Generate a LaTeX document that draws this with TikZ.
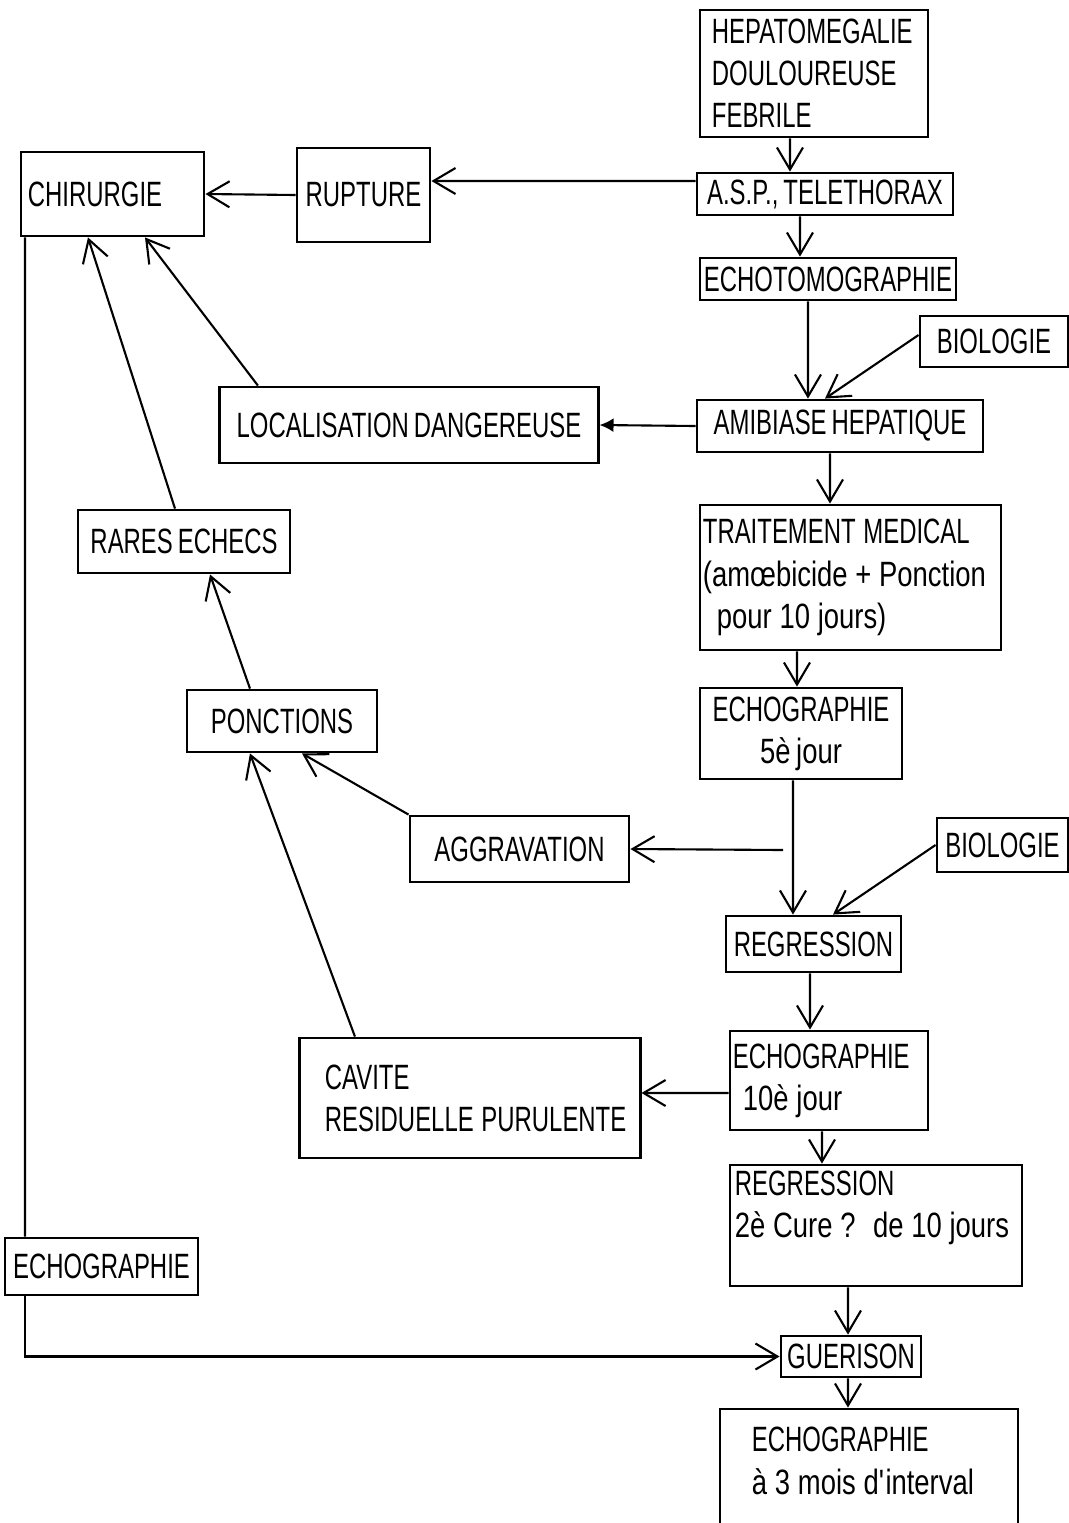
\documentclass[tikz,border=0pt]{standalone}
\usepackage{fontspec}
\setmainfont{Liberation Sans}[FakeStretch=0.68, WordSpace=0.75]
\newfontfamily\lowfont{Liberation Sans}[FakeStretch=0.78, WordSpace=0.75]
\newcommand\tightsp{\spaceskip=2.2pt\relax}
\usetikzlibrary{arrows.meta}

\begin{document}
\begin{tikzpicture}[
  x=0.01cm, y=-0.01cm,
  box/.style={draw, line width=0.8pt, inner sep=0pt, text centered,
              font=\fontsize{10}{12}\selectfont},
  leftbox/.style={box, align=left, inner xsep=0.03cm},
  arr/.style={-{Straight Barb[length=2.2mm, width=2.6mm]}, semithick},
  dot/.style={-{Latex[length=1.4mm, width=1.4mm]}, semithick}
]
\useasboundingbox (0,0) rectangle (1069,1523);

\node[leftbox, text width=2.22cm, minimum height=1.27cm] (hep) at (814,73.5)
  {\hspace*{0.09cm}HEPATOMEGALIE\\\hspace*{0.09cm}DOULOUREUSE\\\hspace*{0.09cm}FEBRILE};
\node[box, minimum width=2.56cm, minimum height=0.42cm] (asp) at (825,194) {A.S.P., TELETHORAX};
\node[box, minimum width=2.56cm, minimum height=0.42cm] (echt) at (828,279) {ECHOTOMOGRAPHIE};
\node[box, minimum width=1.48cm, minimum height=0.51cm] (bioa) at (994,341.5) {BIOLOGIE};
\node[box, minimum width=2.86cm, minimum height=0.52cm] (amib) at (840,426) {AMIBIASE HEPATIQUE};
\node[box, minimum width=3.78cm, minimum height=0.76cm] (loc) at (409,425) {LOCALISATION DANGEREUSE};
\node[leftbox, text width=1.69cm, inner xsep=0.07cm, minimum height=0.84cm] (chir) at (112.5,194) {CHIRURGIE};
\node[box, minimum width=1.33cm, minimum height=0.94cm] (rupt) at (363.5,195) {RUPTURE};
\node[leftbox, text width=2.95cm, minimum height=1.45cm] (trait) at (850.5,577.5)
  {\mbox{\tightsp TRAITEMENT MEDICAL}\\\mbox{\lowfont\tightsp (amœbicide + Ponction}\\\mbox{\lowfont\tightsp\hspace*{0.14cm}pour 10 jours)}};
\node[box, minimum width=2.12cm, minimum height=0.63cm] (rares) at (184,541.5) {RARES ECHECS};
\node[box, minimum width=2.02cm, minimum height=0.91cm, align=center] (echoc) at (801,733.5)
  {ECHOGRAPHIE\\{\lowfont 5è jour}};
\node[box, minimum width=1.90cm, minimum height=0.62cm] (ponc) at (282,721) {PONCTIONS};
\node[box, minimum width=2.19cm, minimum height=0.66cm] (aggr) at (519.5,849) {AGGRAVATION};
\node[box, minimum width=1.31cm, minimum height=0.54cm] (biob) at (1002.5,845) {BIOLOGIE};
\node[box, minimum width=1.75cm, minimum height=0.56cm] (regr) at (813.5,944) {REGRESSION};
\node[leftbox, text width=1.92cm, minimum height=0.99cm] (echod) at (829,1080.5)
  {ECHOGRAPHIE\\\mbox{\lowfont\tightsp\hspace*{0.1cm}10è jour}};
\node[leftbox, text width=3.34cm, minimum height=1.20cm] (cav) at (470,1098)
  {\hspace*{0.22cm}CAVITE\\\mbox{\tightsp\hspace*{0.22cm}RESIDUELLE PURULENTE}};
\node[leftbox, text width=2.86cm, minimum height=1.21cm] (regrb) at (876,1225.5)
  {\hspace*{0.02cm}REGRESSION\\\mbox{\lowfont\tightsp\hspace*{0.02cm}2è Cure ? de 10 jours}\\\mbox{}};
\node[box, minimum width=1.93cm, minimum height=0.57cm] (echl) at (101.5,1266.5) {ECHOGRAPHIE};
\node[box, minimum width=1.40cm, minimum height=0.41cm] (guer) at (851,1356.5) {GUERISON};
\node[leftbox, text width=2.92cm, minimum height=1.88cm] (echoe) at (869,1503)
  {\hspace*{0.29cm}ECHOGRAPHIE\\\mbox{\lowfont\tightsp\hspace*{0.29cm}à 3 mois d\textquotesingle interval}\\\mbox{}\\\mbox{}};

\coordinate (split) at (783,850);

\draw[arr] ([xshift=-0.24cm]hep.south) -- ([xshift=-0.35cm]asp.north);
\draw[arr] ([yshift=0.13cm]asp.west) -- ([yshift=0.14cm]rupt.east);
\draw[arr] (rupt.west) -- (chir.east);
\draw[arr] ([xshift=-0.25cm]asp.south) -- ([xshift=-0.28cm]echt.north);
\draw[arr] ([xshift=-0.20cm]echt.south) -- ([xshift=-0.32cm]amib.north);
\draw[arr] ([yshift=0.065cm]bioa.west) -- ([xshift=-0.15cm]amib.north);
\draw[dot] (amib.west) -- (loc.east);
\draw[arr] ([xshift=-1.51cm]loc.north) -- ([xshift=0.325cm]chir.south);
\draw[arr] ([xshift=-0.10cm]amib.south) -- ([xshift=-0.205cm]trait.north);
\draw[arr] ([xshift=-0.535cm]trait.south) -- ([xshift=-0.04cm]echoc.north);
\draw[arr] ([xshift=-0.08cm]echoc.south) -- ([xshift=-0.205cm]regr.north);
\draw[arr] (split) -- (aggr.east);
\draw[arr] (biob.west) -- ([xshift=0.195cm]regr.north);
\draw[arr] (aggr.north west) -- ([xshift=0.20cm]ponc.south);
\draw[arr] ([xshift=-1.15cm]cav.north) -- ([xshift=-0.32cm]ponc.south);
\draw[arr] ([xshift=-0.32cm]ponc.north) -- ([xshift=0.26cm]rares.south);
\draw[arr] ([xshift=-0.09cm]rares.north) -- ([xshift=-0.245cm]chir.south);
\draw[arr] ([xshift=-0.035cm]regr.south) -- ([xshift=-0.19cm]echod.north);
\draw[arr] ([yshift=-0.125cm]echod.west) -- ([yshift=0.05cm]cav.east);
\draw[arr] ([xshift=-0.07cm]echod.south) -- ([xshift=-0.54cm]regrb.north);
\draw[arr] ([xshift=-0.28cm]regrb.south) -- ([xshift=-0.03cm]guer.north);
\draw[semithick] ([xshift=-0.875cm]chir.south) -- ([xshift=-0.765cm]echl.north);
\draw[arr] ([xshift=-0.765cm]echl.south) |- (guer.west);
\draw[arr] ([xshift=-0.03cm]guer.south) -- ([xshift=-0.21cm]echoe.north);
\end{tikzpicture}
\end{document}
